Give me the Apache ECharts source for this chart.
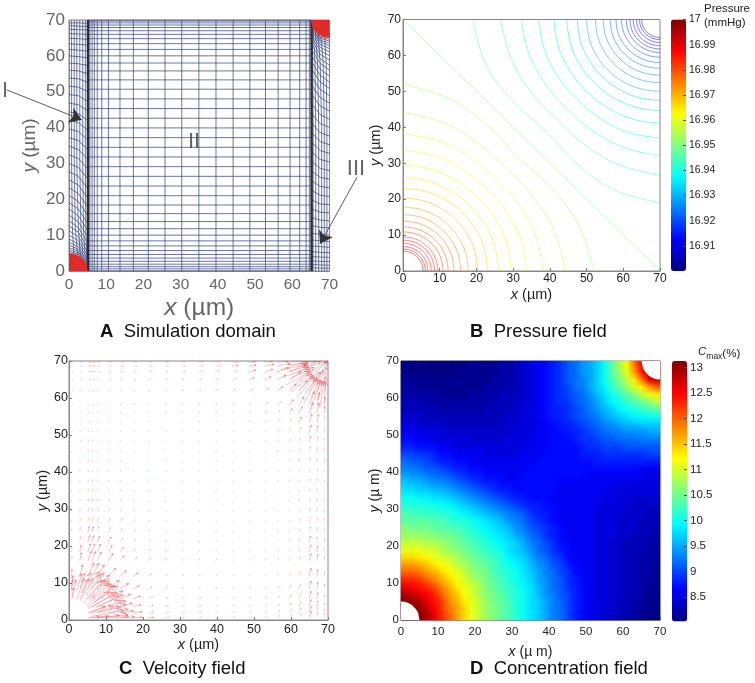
<!DOCTYPE html>
<html>
<head>
<meta charset="utf-8">
<style>html,body{margin:0;padding:0;background:#fff}#c{width:755px;height:683px}</style>
<script src="https://cdn.jsdelivr.net/npm/echarts@6/dist/echarts.min.js"></script>
</head>
<body>
<div id="c"></div>
<script>
// ---- shared ----
const arcX = [0,1,2,3,4,4.6,5];
const arcY = [5,4.9,4.6,4,3,2,0];

// ---- A: mesh ----
const meshX = [5.6,6.2,6.8,7.6,8.8,10.6,13.7,17.3,21.3,25.8,30.3,34.9,39.5,44.1,48.6,52.8,56.2,59.4,62,63.7,64.6];
const meshY = [0,.6,1.2,1.9,2.7,3.6,4.6,5.7,7,8.4,10,11.8,13.8,16,18.4,21,23.7,26.4,29.1,31.8,34.5,37.2,39.9,42.6,45.3,48,50.7,53.3,55.8,58,60,61.8,63.4,64.8,66,67,67.9,68.6,69.2,69.7,70];
const wallX = [5.1,65.2];
const stripY0 = [5.4,5.9,6.5,7.2,8,8.9,10,11.2,12.6,14,15.6,17.3,19.1,21.1,23.2,25.4,27.7,30,32.4,34.8,37.2,39.6,42,44.4,46.8,49.2,51.5,53.8,56,58,60,61.8,63.4,64.9,66.2,67.4,68.4,69.2];
const stripYM = [4.7,5.1,5.6,6.1,6.8,7.6,8.5,9.6,10.8,12.1,13.7,15.4,17.3,19.4,21.6,24,26.4,28.9,31.4,33.9,36.4,38.9,41.4,43.9,46.4,48.9,51.3,53.6,55.8,57.8,59.8,61.6,63.2,64.8,66.1,67.3,68.3,69.2];
const stripY5 = [.3,.7,1.2,1.8,2.5,3.3,4.2,5.2,6.4,7.8,9.4,11.2,13.2,15.4,17.8,20.3,23,25.7,28.4,31.1,33.8,36.5,39.2,41.9,44.6,47.3,50,52.6,55,57.3,59.4,61.3,63,64.6,66,67.2,68.2,69.1];
const stripRiseY = [70,30,12];
const stripRiseX = [[.7,.7,.9,1.3],[1.4,1.4,1.7,2.3],[2.1,2.1,2.5,3.1],[2.9,2.9,3.2,3.8],[3.7,3.7,3.9,4.4],[4.4,4.4,4.5,4.85]];
const stripRiseEnd = [4.83,4.45,3.92,3.25,2.4,1.2];
const arrowI = [[-16.7,50.5],[3.4,42.2]];
const arrowIII = [[77.4,26.2],[67.5,7.6]];

// ---- B: pressure ----
const pressureTicks = [16.91,16.92,16.93,16.94,16.95,16.96,16.97,16.98,16.99,17];
const contourAngles = [0,15,30,45,60,75,90];
const lowRadii = [[52,49.5,46.5,44.5],[44.2,42.7,41,40],[38.2,37.4,36.6,36],[33.6,33.2,32.6,32.3],[29.5,29.3,29,28.8],[26,25.9,25.8,25.7],[23,23,22.9,22.9],[20.3,20.3,20.3,20.3],[17.8,17.8,17.8,17.8],[15.7,15.7,15.7,15.7],[13.9,13.9,13.9,13.9],[12.3,12.3,12.3,12.3],[10.9,10.9,10.9,10.9],[9.5,9.5,9.5,9.5],[8.6,8.6,8.6,8.6],[7.7,7.7,7.7,7.7],[6.8,6.8,6.8,6.8],[6.1,6.1,6.1,6.1],[5.5,5.5,5.5,5.5]];
const lowLevels = [16.954,16.956,16.959,16.961,16.963,16.965,16.967,16.970,16.972,16.974,16.976,16.978,16.981,16.983,16.985,16.987,16.989,16.992,16.994];
const highRadii = [[51,49,46,44],[43.4,42,40.5,39.5],[37.8,37,36,35.5],[33,32.6,32,31.7],[28.9,28.7,28.4,28.3],[25.4,25.3,25.2,25.1],[22.5,22.5,22.4,22.4],[20,20,20,20],[17.6,17.6,17.6,17.6],[15.5,15.5,15.5,15.5],[13.6,13.6,13.6,13.6],[12,12,12,12],[10.5,10.5,10.5,10.5],[9.2,9.2,9.2,9.2],[8.2,8.2,8.2,8.2],[7.3,7.3,7.3,7.3],[6.4,6.4,6.4,6.4],[5.6,5.6,5.6,5.6],[5,5,5,5]];
const highLevels = [16.946,16.944,16.941,16.939,16.937,16.935,16.933,16.930,16.928,16.926,16.924,16.922,16.919,16.917,16.915,16.913,16.911,16.908,16.906];
const midContour = [[0,70],[70,0]];
const midLevel = 16.95;

// ---- C: velocity ----
const quiverX = [.7,2.9,5.1,6.2,7.6,10.6,13.7,17.3,21.3,25.8,30.3,34.9,39.5,44.1,48.6,52.8,56.2,59.4,62,64.9,67,69];
const quiverY = [.6,1.9,3.6,5.7,8.4,11.8,16,18.4,21,23.7,26.4,29.1,31.8,34.5,37.2,39.9,42.6,45.3,48,50.7,53.3,55.8,58,61.8,64.8,67,68.6,69.7];
const quiverAngle = [
[0,0,7,6,5,4,3,3,4,5,7,9,12,16,20,27,35,45,55,70,80,85],
[0,0,20,17,14,10,8,7,8,10,12,15,18,22,27,33,40,50,60,72,80,85],
[0,0,35,30,25,18,15,13,14,16,18,20,23,27,32,38,45,54,62,74,80,85],
[80,65,48,42,37,28,23,20,20,21,23,25,28,32,36,42,48,56,64,75,81,85],
[85,72,58,53,48,38,31,27,25,26,28,30,32,36,40,45,51,58,65,76,82,85],
[86,76,66,62,57,47,40,34,31,30,31,33,35,38,42,47,53,59,66,76,82,85],
[87,79,71,68,64,55,47,41,37,35,35,36,38,40,44,48,54,60,66,76,82,85],
[87,80,73,70,66,58,51,44,40,38,37,38,39,42,45,49,54,60,66,76,82,85],
[87,81,75,72,69,61,54,47,43,40,39,39,40,43,46,50,55,60,66,76,82,85],
[87,82,76,74,71,63,57,50,45,42,41,41,42,44,47,50,55,60,66,76,82,85],
[87,82,77,75,72,65,59,52,47,44,43,43,43,45,47,51,55,60,66,76,82,85],
[87,83,78,76,73,67,61,54,49,46,44,44,44,45,48,51,55,60,66,76,82,85],
[88,83,79,77,74,68,62,56,51,47,45,45,45,46,48,51,55,61,66,76,82,85],
[88,83,79,77,75,69,63,57,52,48,46,45,45,46,48,52,56,61,66,76,82,85],
[88,83,79,77,75,69,63,57,52,49,47,46,46,46,48,52,56,61,66,76,82,85],
[87,82,78,76,74,68,62,57,53,49,47,46,45,46,48,52,56,61,67,76,82,85],
[86,81,76,74,72,66,61,56,52,49,47,46,45,46,48,51,56,61,66,76,82,85],
[84,78,73,71,69,63,58,54,51,48,46,45,45,45,47,50,55,60,66,76,82,85],
[80,74,69,67,65,60,55,52,49,47,45,45,44,44,46,49,54,59,65,75,81,85],
[75,69,64,62,60,56,52,49,47,45,44,43,43,43,45,48,52,58,64,74,81,85],
[68,63,58,57,55,52,49,46,44,43,42,42,41,42,43,46,50,56,62,72,80,85],
[60,56,52,51,50,47,45,43,42,41,40,40,39,40,41,44,48,53,60,71,79,85],
[50,47,45,44,43,42,41,40,39,39,38,37,37,37,39,41,45,50,56,68,78,85],
[35,33,32,31,31,31,31,31,31,31,31,31,31,32,33,35,38,43,49,60,72,84],
[20,20,20,20,20,20,21,21,22,22,22,22,23,24,25,27,30,34,40,48,60,80],
[12,12,12,12,12,12,12,13,13,13,14,14,15,15,16,18,20,23,28,30,0,0],
[6,6,6,6,6,6,6,7,7,7,7,8,8,8,9,10,11,13,15,15,0,0],
[2,2,2,2,2,2,2,2,2,2,3,3,3,3,3,4,4,5,5,5,0,0]];
const quiverLength = [
[0,0,30,45,60,55,40,25,16,11,9,8,8,8,8,9,10,12,14,18,14,10],
[0,0,50,60,65,55,38,24,15,11,9,8,8,8,8,9,10,12,15,19,15,10],
[0,0,70,70,65,50,35,22,15,11,9,8,8,8,8,9,10,12,15,20,16,11],
[30,60,70,65,60,45,32,21,14,10,9,8,7,7,8,9,10,12,15,21,17,12],
[25,45,55,55,50,38,28,19,13,10,8,7,7,7,7,8,9,11,14,22,18,13],
[18,32,40,40,36,30,23,16,12,9,8,7,6,6,6,7,8,10,13,22,18,13],
[12,22,27,27,26,23,18,14,11,8,7,6,6,5,6,6,7,9,12,20,17,12],
[10,18,23,23,22,20,16,12,10,8,7,6,5,5,5,6,7,8,11,19,16,11],
[9,15,19,19,18,16,14,11,9,7,6,6,5,5,5,5,6,8,10,17,14,10],
[8,13,16,16,15,14,12,10,8,7,6,5,5,5,5,5,6,7,9,15,13,9],
[7,11,13,13,13,12,11,9,8,6,6,5,5,5,5,5,5,7,9,14,12,8],
[6,9,11,11,11,10,9,8,7,6,5,5,5,5,5,5,5,6,8,12,11,8],
[5,8,9,9,9,9,8,7,6,6,5,5,5,5,5,5,5,6,8,11,10,7],
[5,7,8,8,8,8,7,7,6,5,5,5,5,5,5,5,5,6,7,10,9,6],
[4,6,7,7,7,7,6,6,5,5,5,5,5,5,5,5,6,6,7,10,9,6],
[4,6,6,6,6,6,6,5,5,5,5,5,5,5,5,5,6,7,8,11,10,7],
[3,5,6,6,6,6,5,5,5,5,5,5,5,5,5,6,6,7,9,13,11,8],
[3,5,5,5,5,5,5,5,5,5,5,5,5,5,5,6,7,8,10,15,13,9],
[3,5,5,5,5,5,5,5,5,5,5,5,5,5,6,7,8,9,12,17,15,10],
[3,4,5,5,5,5,5,5,5,5,5,5,5,6,6,7,9,11,14,20,18,12],
[3,4,5,5,5,5,5,5,5,5,5,6,6,6,7,8,10,13,17,25,22,15],
[3,4,5,5,5,5,5,5,6,6,6,6,6,7,8,10,12,16,21,31,28,18],
[3,4,5,5,5,5,5,6,6,6,7,7,7,8,9,12,15,20,27,40,35,22],
[4,5,6,6,6,6,6,7,7,7,8,8,9,10,12,15,20,28,38,60,60,40],
[4,6,7,7,7,7,7,8,8,9,9,10,11,13,16,20,28,40,55,80,60,35],
[4,6,8,8,8,8,9,9,10,10,11,12,13,15,19,24,34,50,70,70,0,0],
[4,6,8,8,8,8,9,10,10,11,12,13,14,16,20,26,36,55,70,50,0,0],
[3,5,7,7,7,8,8,9,9,10,10,11,12,14,17,22,30,40,50,30,0,0]];
// extra arrows read from the two dense fans: x, y, angle (deg), length (µm)
const quiverFanLow = [[5.9,1,10,9],[5.6,2.1,20,9],[5.2,3,30,9],[4.6,3.9,40,9],[3.9,4.6,50,8],[3,5.2,60,7],[2.1,5.6,70,6],[1,5.9,80,5],
[8,.7,5,8],[7.7,2.1,15,8],[7.3,3.4,25,8],[6.6,4.6,35,8],[5.7,5.7,45,7],[4.6,6.6,55,7],[3.4,7.3,65,6],[2.1,7.7,75,5],[.7,8,85,4]];
const quiverFanHigh = [[57.2,67.7,10,7.5],[57.8,65.6,20,7.5],[58.7,63.5,30,7.5],[60,61.6,40,7.5],[61.6,60,50,7.5],[63.5,58.7,60,7.5],[65.6,57.8,70,7.5],[67.7,57.2,80,7.5],
[59,69,5,5.5],[59.4,67.2,15,5.5],[60,65.4,25,5.5],[61,63.7,35,5.5],[62.2,62.2,45,5.5],[63.7,61,55,5.5],[65.4,60,65,5.5],[67.2,59.4,75,5.5],[69,59,85,5.5]];

// ---- D: concentration (x10, rows from y=1 upward, columns x=1,3..69) ----
const concentrationTicks = [8.5,9,9.5,10,10.5,11,11.5,12,12.5,13];
const cellCentres = ['1','3','5','7','9','11','13','15','17','19','21','23','25','27','29','31','33','35','37','39','41','43','45','47','49','51','53','55','57','59','61','63','65','67','69'];
const concentrationRows = [
[131,131,131,129,126,123,120,117,114,111,109,107,106,104,103,101,100,98,97,95,93,92,90,88,87,86,85,84,84,83,82,82,81,81,80],
[131,131,130,128,125,122,119,117,114,111,109,107,106,104,103,101,100,98,97,95,93,92,90,88,87,86,85,84,84,83,83,82,81,81,80],
[131,130,129,126,124,122,118,116,113,111,109,107,105,104,103,101,100,98,97,95,93,92,90,88,87,86,85,85,84,83,83,82,82,81,81],
[129,128,126,125,123,120,117,115,112,110,108,106,105,104,102,101,100,98,96,94,93,91,90,88,87,86,85,85,84,84,83,83,82,81,81],
[126,125,124,123,121,118,116,113,111,110,108,106,104,103,102,101,99,98,96,94,92,91,89,88,87,86,85,85,84,84,83,83,82,81,81],
[123,123,122,120,118,116,114,112,110,108,107,105,104,103,101,100,99,97,95,94,92,91,89,88,87,86,85,85,84,84,83,83,82,82,81],
[120,120,119,117,116,114,112,111,109,107,106,105,103,102,101,100,98,97,95,93,92,90,89,87,86,86,85,85,84,84,83,83,82,82,81],
[117,117,116,115,113,112,111,109,108,106,105,104,103,101,100,99,98,96,94,93,91,90,88,87,86,86,85,85,84,84,83,83,82,82,81],
[114,114,113,112,111,110,109,108,106,105,104,103,102,101,99,98,97,95,93,92,90,89,87,86,86,86,85,85,84,84,83,83,82,82,82],
[111,111,111,110,110,108,107,106,105,104,103,102,101,100,98,97,96,94,92,91,89,88,87,86,86,86,85,85,84,84,83,83,83,82,82],
[109,109,109,108,108,107,106,105,104,103,102,101,100,99,98,97,95,93,92,90,89,87,87,86,86,86,85,85,84,84,83,83,83,82,82],
[107,107,107,106,106,105,105,104,103,102,101,100,99,98,97,95,94,92,91,89,88,87,86,86,86,86,85,85,85,84,84,83,83,83,82],
[106,105,105,105,104,104,103,103,102,101,100,99,98,97,96,94,93,91,90,89,88,87,86,86,86,86,85,85,85,84,84,84,83,83,83],
[104,104,104,104,103,103,102,101,101,100,99,98,97,96,94,93,92,90,89,88,87,86,86,86,86,86,85,85,85,84,84,84,83,83,83],
[103,103,102,102,102,101,101,100,99,98,97,96,95,94,93,92,91,89,88,88,87,86,86,86,86,86,85,85,85,85,84,84,84,83,83],
[101,101,101,101,100,100,99,98,97,96,95,94,93,92,91,90,89,88,88,87,87,86,86,86,86,86,85,85,85,85,84,84,84,84,84],
[100,100,99,99,98,98,97,96,95,94,93,92,91,90,89,88,88,87,87,87,86,86,86,86,86,86,86,85,85,85,85,84,84,84,84],
[98,98,97,97,96,96,95,94,93,92,91,90,89,88,88,87,87,87,87,87,87,86,86,86,86,86,86,86,85,85,85,85,85,85,85],
[97,96,96,95,94,94,93,92,91,90,89,88,88,87,87,87,87,87,87,87,87,86,86,86,86,86,86,86,86,86,85,85,85,85,85],
[95,94,94,93,92,92,91,90,89,88,88,87,87,87,86,86,87,87,87,87,87,87,87,87,87,86,86,86,86,86,86,86,86,85,85],
[93,93,92,91,91,90,89,88,88,87,87,86,86,86,86,86,86,87,87,87,87,87,87,87,87,87,87,87,87,87,87,87,86,86,86],
[92,91,91,90,89,88,88,87,87,86,86,86,86,86,86,86,86,86,87,87,87,87,87,87,87,87,88,88,88,88,88,88,88,88,88],
[90,90,89,89,88,87,87,86,86,86,86,85,85,85,85,85,86,86,86,87,87,87,87,87,88,88,88,89,89,89,89,89,89,90,90],
[88,88,87,87,87,86,86,85,85,85,85,85,85,85,85,85,85,86,86,86,87,87,87,87,88,89,89,90,90,90,91,91,91,91,91],
[87,87,86,86,85,85,85,85,85,84,84,84,84,84,85,85,85,85,86,86,87,87,87,88,89,89,90,91,91,92,92,92,93,93,93],
[86,86,85,85,85,84,84,84,84,84,84,84,84,84,84,85,85,85,86,86,87,87,88,88,89,90,91,92,93,93,94,94,94,95,95],
[85,85,84,84,84,84,83,83,83,83,83,83,83,84,84,84,85,85,86,86,87,88,88,89,90,91,92,93,94,95,96,96,97,97,97],
[84,84,84,83,83,83,83,83,83,83,83,83,83,83,84,84,85,85,86,87,88,88,89,90,91,92,93,95,96,97,98,99,99,100,100],
[83,83,83,83,83,82,82,82,82,82,82,83,83,83,83,84,84,85,86,87,88,88,89,90,91,93,94,96,97,99,100,101,102,103,104],
[83,83,83,82,82,82,82,82,82,82,82,82,83,83,83,84,84,85,86,87,88,89,89,91,92,93,95,97,99,100,102,103,105,106,109],
[82,82,82,82,82,81,81,81,81,82,82,82,82,83,83,83,84,85,86,87,88,89,90,91,92,94,96,98,100,102,104,106,109,111,113],
[82,82,81,81,81,81,81,81,81,81,81,82,82,82,83,83,84,85,86,87,88,89,90,92,93,95,97,99,102,104,107,110,113,117,120],
[81,81,81,81,81,81,81,81,81,81,81,81,82,82,82,83,84,85,86,87,88,89,91,92,93,95,97,100,103,106,109,113,119,126,128],
[81,80,80,80,80,80,80,81,81,81,81,81,81,82,82,83,84,85,86,87,88,89,91,92,94,95,97,100,104,107,111,117,124,128,128],
[80,80,80,80,80,80,80,80,80,81,81,81,81,82,82,83,84,85,86,87,88,89,91,92,94,95,97,100,104,108,112,119,125,128,128]];

// ---- styling ----
const FONT = '"Liberation Sans", Arial, sans-serif';
const jetStops = ['#000080','#0000ff','#0080ff','#00ffff','#80ff80','#ffff00','#ff8000','#ff0000','#800000'];
function jet(t, alpha) {
  const p = Math.max(0, Math.min(0.9999, t)) * (jetStops.length - 1), i = Math.floor(p), f = p - i;
  const h = s => [1,3,5].map(k => parseInt(s.substr(k,2),16));
  const a = h(jetStops[i]), b = h(jetStops[i+1]);
  const c = a.map((v,k) => Math.round(v + (b[k]-v)*f));
  return `rgba(${c[0]},${c[1]},${c[2]},${alpha})`;
}
const GRIDS = {
  A:{left:69,top:20,width:260.5,height:251},
  B:{left:403,top:19.5,width:257,height:251.5},
  C:{left:69,top:361,width:259,height:259},
  D:{left:401,top:361,width:259,height:259}
};
function plotAxis(grid, opt) {
  const color = opt.color || '#222';
  return {
    type:'value', gridIndex:grid, min:0, max:70, interval:10,
    splitLine:{show:false},
    axisLine:{show:true, onZero:false, lineStyle:{color:'#888', width:1}},
    axisTick:{show:opt.ticks !== false, inside:true, length:3, lineStyle:{color:'#777'}},
    axisLabel:{color, fontFamily:FONT, fontSize:opt.size, margin:opt.margin},
    name:opt.name, nameLocation:'middle', nameGap:opt.gap,
    nameTextStyle:{color, fontFamily:FONT, fontSize:opt.nameSize,
      rich:{i:{fontStyle:'italic', color, fontFamily:FONT, fontSize:opt.nameSize}}}
  };
}
const xAxes = [
  plotAxis(0,{name:'{i|x} (µm)',gap:25,size:15.5,nameSize:24.5,color:'#666',ticks:false,margin:6}),
  plotAxis(1,{name:'{i|x} (µm)',gap:16,size:12,nameSize:14.5,margin:2}),
  plotAxis(2,{name:'{i|x} (µm)',gap:17,size:12.5,nameSize:14.5,margin:3}),
  plotAxis(3,{name:'{i|x} (µ m)',gap:25,size:11.5,nameSize:14,margin:6}),
  {type:'category',gridIndex:4,data:cellCentres,show:false},
  {type:'value',gridIndex:5,show:false,min:0,max:1},
  {type:'value',gridIndex:6,show:false,min:0,max:1}
];
const yAxes = [
  plotAxis(0,{name:'{i|y} (µm)',gap:30,size:17,nameSize:19,color:'#666',ticks:false,margin:4}),
  plotAxis(1,{name:'{i|y} (µm)',gap:17,size:12,nameSize:14.5,margin:2}),
  plotAxis(2,{name:'{i|y} (µm)',gap:18,size:12.5,nameSize:14.5,margin:1}),
  plotAxis(3,{name:'{i|y} (µ m)',gap:16,size:11.5,nameSize:14,margin:2}),
  {type:'category',gridIndex:4,data:cellCentres,show:false},
  {type:'value',gridIndex:5,position:'right',min:16.9,max:17,z:10,
    splitLine:{show:false},axisLine:{show:false,onZero:false},
    axisTick:{show:true,inside:true,length:3,customValues:pressureTicks,lineStyle:{color:'#444'}},
    axisLabel:{customValues:pressureTicks,margin:3,color:'#222',fontFamily:FONT,fontSize:10.5,formatter:v=>String(+(+v).toFixed(2))}},
  {type:'value',gridIndex:6,position:'right',min:8.02,max:13.13,z:10,
    splitLine:{show:false},axisLine:{show:false,onZero:false},
    axisTick:{show:true,inside:true,length:3,customValues:concentrationTicks,lineStyle:{color:'#444'}},
    axisLabel:{customValues:concentrationTicks,margin:3,color:'#222',fontFamily:FONT,fontSize:11.5,formatter:v=>String(+(+v).toFixed(1))}}
];
const border = {show:true,borderColor:'#888',borderWidth:1,outerBoundsMode:'none'};
const grids = [
  {...GRIDS.A,...border},{...GRIDS.B,...border},{...GRIDS.C,...border},{...GRIDS.D,...border},
  {...GRIDS.D,show:false,outerBoundsMode:'none'},
  {left:671,top:19.5,width:15,height:251.5,show:false,outerBoundsMode:'none'},
  {left:672,top:361,width:15,height:260.5,show:false,outerBoundsMode:'none'}
];

function polygonSeries(grid, pts, color, z) {
  return {type:'custom',xAxisIndex:grid,yAxisIndex:grid,silent:true,z,clip:true,data:[pts[0]],
    renderItem:(p,api)=>({type:'polygon',shape:{points:pts.map(q=>api.coord(q))},style:{fill:color}})};
}
const lowArc = [[0,0]].concat(arcX.map((x,i)=>[x,arcY[i]]));
const highArc = lowArc.map(q=>[70-q[0],70-q[1]]);

const mesh = [];
meshX.forEach(x=>mesh.push({coords:[[x,0],[x,70]]}));
meshY.forEach(y=>mesh.push({coords:[[5.1,y],[65.2,y]]}));
stripY0.forEach((y0,i)=>{
  const c=[[0,y0],[2.5,stripYM[i]],[5.1,stripY5[i]]];
  mesh.push({coords:c});
  mesh.push({coords:c.map(q=>[70-q[0],70-q[1]])});
});
stripRiseX.forEach((xs,i)=>{
  const c=[[xs[0],stripRiseY[0]],[xs[1],stripRiseY[1]],[xs[2],stripRiseY[2]],[xs[3],stripRiseEnd[i]]];
  mesh.push({coords:c});
  mesh.push({coords:c.map(q=>[70-q[0],70-q[1]])});
});
const contourSeries = [];
function addContours(radii, levels, cx, cy, sgn) {
  radii.forEach((r,i)=>{
    const full = r.concat(r.slice(0,3).reverse());
    const data = contourAngles.map((a,k)=>{
      const t=a*Math.PI/180;
      return [cx+sgn*full[k]*Math.cos(t), cy+sgn*full[k]*Math.sin(t)];
    });
    contourSeries.push({type:'line',xAxisIndex:1,yAxisIndex:1,data,smooth:0.4,symbol:'none',silent:true,clip:true,
      lineStyle:{width:1,color:jet((levels[i]-16.9)/0.1,0.5)}});
  });
}
addContours(lowRadii,lowLevels,0,0,1);
addContours(highRadii,highLevels,70,70,-1);
contourSeries.push({type:'line',xAxisIndex:1,yAxisIndex:1,data:midContour,symbol:'none',silent:true,
  lineStyle:{width:1,color:jet((midLevel-16.9)/0.1,0.55)}});

const quiverData = quiverFanLow.concat(quiverFanHigh);
quiverY.forEach((y,r)=>quiverX.forEach((x,c)=>{
  if (quiverLength[r][c]>0) quiverData.push([x,y,quiverAngle[r][c],quiverLength[r][c]/10]);
}));
const heatData = [];
concentrationRows.forEach((row,r)=>row.forEach((v,c)=>heatData.push([c,r,v/10])));

// paint-time shading of the same cells, like interpolated shading in the original
const shade = document.createElement('canvas');
shade.width = cellCentres.length; shade.height = concentrationRows.length;
(function(){
  const g = shade.getContext('2d');
  concentrationRows.forEach((row,r)=>row.forEach((v,c)=>{
    g.fillStyle = jet((v/10-8.02)/5.11,1);
    g.fillRect(c, shade.height-1-r, 1, 1);
  }));
})();

const series = [
  {type:'lines',coordinateSystem:'cartesian2d',xAxisIndex:0,yAxisIndex:0,polyline:true,silent:true,clip:true,
    lineStyle:{color:'#3b4a82',width:.8,opacity:.95},data:mesh,z:2},
  {type:'lines',coordinateSystem:'cartesian2d',xAxisIndex:0,yAxisIndex:0,polyline:true,silent:true,
    lineStyle:{color:'#2d2d3a',width:2.4,opacity:1},data:wallX.map(x=>({coords:[[x,0],[x,70]]})),z:3},
  polygonSeries(0,lowArc,'#e02b2b',4),
  polygonSeries(0,highArc,'#e02b2b',4),
  {type:'lines',coordinateSystem:'cartesian2d',xAxisIndex:0,yAxisIndex:0,silent:true,clip:false,z:5,
    symbol:['none','arrow'],symbolSize:12,lineStyle:{color:'#333',width:.8,opacity:1,curveness:0},
    data:[{coords:arrowI},{coords:arrowIII}]},
  ...contourSeries,
  {type:'scatter',xAxisIndex:1,yAxisIndex:1,data:[],id:'pressureScale'},
  {type:'custom',xAxisIndex:2,yAxisIndex:2,silent:true,clip:true,z:2,data:quiverData,
    encode:{x:0,y:1},
    renderItem:(p,api)=>{
      const x=api.value(0),y=api.value(1),t=api.value(2)*Math.PI/180,L=api.value(3);
      const s=api.coord([x,y]),e=api.coord([x+L*Math.cos(t),y+L*Math.sin(t)]);
      const dx=e[0]-s[0],dy=e[1]-s[1],hl=.22;
      const h1=[e[0]-hl*(dx*.9-dy*.45),e[1]-hl*(dy*.9+dx*.45)],h2=[e[0]-hl*(dx*.9+dy*.45),e[1]-hl*(dy*.9-dx*.45)];
      return {type:'polyline',shape:{points:[s,e,h1,e,h2]},style:{stroke:'#e8303a',lineWidth:.6,opacity:L>1.5?.5:.3,fill:null}};
    }},
  {type:'heatmap',xAxisIndex:4,yAxisIndex:4,data:heatData,silent:true,progressive:0,z:1,id:'heat',emphasis:{disabled:true}},
  {type:'custom',xAxisIndex:3,yAxisIndex:3,silent:true,z:3,clip:true,data:[[0,0]],
    renderItem:(p,api)=>{
      const a=api.coord([0,70]),b=api.coord([70,0]);
      return {type:'image',style:{image:shade,x:a[0],y:a[1],width:b[0]-a[0],height:b[1]-a[1]}};
    }},
  polygonSeries(3,lowArc,'#ffffff',4),
  polygonSeries(3,highArc,'#ffffff',4)
];
const heatIndex = series.findIndex(s=>s.id==='heat');
const pressureIndex = series.findIndex(s=>s.id==='pressureScale');

const capStyle = {fontSize:18.5,fontWeight:'normal',color:'#111',fontFamily:FONT,
  rich:{b:{fontWeight:'bold',fontSize:18.5,color:'#111',fontFamily:FONT}}};
const cap = (letter,txt,left,top)=>({text:`{b|${letter}}  ${txt}`,left,top,padding:0,textStyle:capStyle});
const roman = (t,x,y)=>({type:'text',x,y,style:{text:t,fill:'#666',font:'22px '+FONT,textAlign:'center',textVerticalAlign:'middle'}});

const option = {
  animation:false,
  backgroundColor:'#fff',
  title:[
    cap('A','Simulation domain',100,322),
    cap('B','Pressure field',470,322),
    cap('C','Velcoity field',119,659),
    cap('D','Concentration field',470,659)
  ],
  grid:grids, xAxis:xAxes, yAxis:yAxes, series,
  visualMap:[
    {type:'continuous',seriesIndex:heatIndex,dimension:2,min:8.02,max:13.13,left:672,top:361,itemWidth:15,itemHeight:260.5,
      padding:0,calculable:false,text:null,inRange:{color:jetStops},hoverLink:false,z:1},
    {type:'continuous',seriesIndex:pressureIndex,dimension:1,min:16.9,max:17,left:671,top:19.5,itemWidth:15,itemHeight:251.5,
      padding:0,calculable:false,text:null,inRange:{color:jetStops},hoverLink:false,z:1}
  ],
  graphic:[
    roman('I',5,91),roman('II',194,142),roman('III',356,169),
    {type:'text',x:704,y:3,style:{text:'Pressure',fill:'#222',font:'11.5px '+FONT}},
    {type:'text',x:704,y:17,style:{text:'(mmHg)',fill:'#222',font:'11.5px '+FONT}},
    {type:'text',x:698,y:346,style:{text:'{c|C}{m|max}{p|(%)}',fill:'#222',
      rich:{c:{fontStyle:'italic',fontSize:11.5,fontFamily:FONT,fill:'#222',verticalAlign:'top'},
            m:{fontSize:8.5,fontFamily:FONT,fill:'#222',padding:[6,0,0,0]},
            p:{fontSize:11.5,fontFamily:FONT,fill:'#222'}}}}
  ]
};
const chart = echarts.init(document.getElementById('c'),null,{renderer:'canvas'});
chart.setOption(option);
</script>
</body>
</html>
